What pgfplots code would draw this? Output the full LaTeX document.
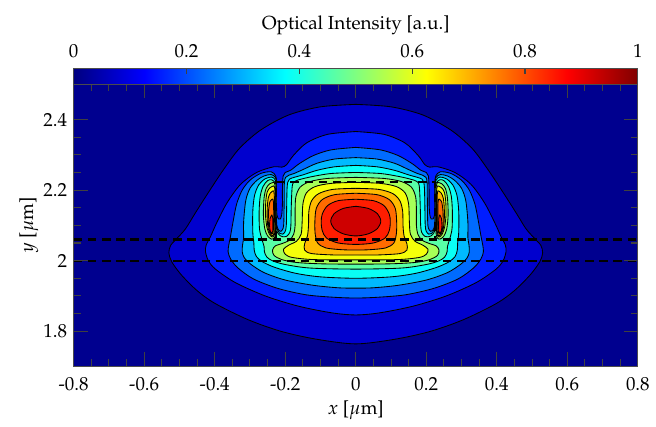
\documentclass[border=0pt]{standalone}
\usepackage[T1]{fontenc}
\usepackage{mathpazo}
\usepackage{pgfplots}
\pgfplotsset{compat=1.18}

% band colours (jet, 13 bands)
\definecolor{c0}{RGB}{0,0,143}
\definecolor{c1}{RGB}{0,0,206}
\definecolor{c2}{RGB}{0,29,255}
\definecolor{c3}{RGB}{0,107,255}
\definecolor{c4}{RGB}{0,186,255}
\definecolor{c5}{RGB}{10,255,245}
\definecolor{c6}{RGB}{88,255,167}
\definecolor{c7}{RGB}{167,255,88}
\definecolor{c8}{RGB}{245,255,10}
\definecolor{c9}{RGB}{255,186,0}
\definecolor{c10}{RGB}{255,107,0}
\definecolor{c11}{RGB}{255,29,0}
\definecolor{c12}{RGB}{206,0,0}

\pgfplotsset{
  lv/.style={draw=black, line width=0.45pt, smooth},
  wg/.style={black, line width=1.1pt, dash pattern=on 4.5pt off 3pt},
}

\begin{document}
\begin{tikzpicture}
\begin{axis}[
  name=main,
  scale only axis, width=297.9pt, height=149pt,
  xmin=-0.8, xmax=0.8, ymin=1.7, ymax=2.5,
  axis background/.style={fill=c0},
  axis on top,
  xtick={-0.8,-0.6,-0.4,-0.2,0,0.2,0.4,0.6,0.8},
  xticklabels={-0.8,-0.6,-0.4,-0.2,0,0.2,0.4,0.6,0.8},
  ytick={1.8,2,2.2,2.4}, yticklabels={1.8,2,2.2,2.4},
  minor tick num=3,
  tick align=inside, major tick length=7.4pt, minor tick length=3.7pt,
  every tick/.style={color=black!75, line width=0.55pt},
  axis line style={color=black!70, line width=0.6pt},
  xticklabel style={yshift=-2.5pt},
  xlabel={$x$ [$\mu$m]}, ylabel={$y$ [$\mu$m]},
  xlabel style={yshift=1.8pt},
  ylabel shift=-4.2pt,
  colormap/jet,
  point meta min=0, point meta max=1,
  colorbar horizontal,
  colorbar style={
    at={(0.5,1)}, anchor=south, yshift=1.9pt,
    scale only axis, width=297.9pt, height=8.4pt,
    xtick={0,0.2,0.4,0.6,0.8,1}, xticklabels={0,0.2,0.4,0.6,0.8,1},
    xtick pos=right, xticklabel pos=right,
    tick align=inside, major tick length=3.2pt,
    every tick/.style={color=black!75, line width=0.55pt},
    axis line style={color=black!70, line width=0.6pt},
    xticklabel style={yshift=2pt},
    xlabel={Optical Intensity [a.u.]},
    xlabel style={yshift=-2pt},
  },
]

% level 1
\addplot[lv, fill=c1] coordinates {
 (0,2.443) (0.10,2.436) (0.19,2.413) (0.27,2.37) (0.33,2.318) (0.375,2.258) (0.42,2.19) (0.455,2.135) (0.483,2.09) (0.508,2.062) (0.525,2.043) (0.530,2.022) (0.522,1.997) (0.495,1.960) (0.45,1.915) (0.398,1.878) (0.304,1.832) (0.21,1.799) (0.11,1.777) (0,1.764)
 (-0.11,1.777) (-0.21,1.799) (-0.304,1.832) (-0.398,1.878) (-0.45,1.915) (-0.495,1.960) (-0.522,1.997) (-0.530,2.022) (-0.525,2.043) (-0.508,2.062) (-0.483,2.09) (-0.455,2.135) (-0.42,2.19) (-0.375,2.258) (-0.33,2.318) (-0.27,2.37) (-0.19,2.413) (-0.10,2.436) (0,2.443)};
% level 2
\addplot[lv, fill=c2] coordinates {
 (0,2.366) (0.08,2.358) (0.139,2.334) (0.177,2.298) (0.196,2.272) (0.21,2.265) (0.233,2.266) (0.281,2.250) (0.327,2.216) (0.365,2.164) (0.394,2.108) (0.412,2.068) (0.424,2.045) (0.426,2.025) (0.418,2.0) (0.398,1.976) (0.342,1.938) (0.257,1.900) (0.163,1.871) (0.068,1.852) (0,1.846)
 (-0.068,1.852) (-0.163,1.871) (-0.257,1.900) (-0.342,1.938) (-0.398,1.976) (-0.418,2.0) (-0.426,2.025) (-0.424,2.045) (-0.412,2.068) (-0.394,2.108) (-0.365,2.164) (-0.327,2.216) (-0.281,2.250) (-0.233,2.266) (-0.21,2.265) (-0.196,2.272) (-0.177,2.298) (-0.139,2.334) (-0.08,2.358) (0,2.366)};
% level 3
\addplot[lv, fill=c3] coordinates {
 (0,2.321) (0.07,2.314) (0.12,2.298) (0.16,2.275) (0.185,2.256) (0.2,2.25) (0.206,2.24) (0.208,2.20) (0.208,2.16) (0.21,2.13) (0.214,2.118) (0.219,2.118) (0.2235,2.13) (0.2248,2.16) (0.2248,2.22) (0.227,2.24) (0.24,2.252) (0.27,2.247) (0.30,2.228) (0.322,2.2) (0.338,2.16) (0.348,2.11) (0.355,2.07) (0.36,2.045) (0.362,2.025) (0.355,2.005) (0.335,1.98) (0.29,1.948) (0.22,1.921) (0.14,1.903) (0.06,1.896) (0,1.894)
 (-0.06,1.896) (-0.14,1.903) (-0.22,1.921) (-0.29,1.948) (-0.335,1.98) (-0.355,2.005) (-0.362,2.025) (-0.36,2.045) (-0.355,2.07) (-0.348,2.11) (-0.338,2.16) (-0.322,2.2) (-0.30,2.228) (-0.27,2.247) (-0.24,2.252) (-0.227,2.24) (-0.2248,2.22) (-0.2248,2.16) (-0.2235,2.13) (-0.219,2.118) (-0.214,2.118) (-0.21,2.13) (-0.208,2.16) (-0.208,2.20) (-0.206,2.24) (-0.2,2.25) (-0.185,2.256) (-0.16,2.275) (-0.12,2.298) (-0.07,2.314) (0,2.321)};
% level 4
\addplot[lv, fill=c4] coordinates {
 (0,2.292) (0.06,2.288) (0.11,2.276) (0.15,2.258) (0.175,2.247) (0.19,2.242) (0.199,2.236) (0.2025,2.22) (0.203,2.17) (0.204,2.11) (0.206,2.092) (0.212,2.083) (0.219,2.087) (0.2238,2.1) (0.225,2.13) (0.225,2.215) (0.228,2.236) (0.24,2.244) (0.26,2.24) (0.28,2.228) (0.30,2.205) (0.312,2.17) (0.318,2.11) (0.318,2.065) (0.321,2.045) (0.322,2.025) (0.316,2.008) (0.298,1.99) (0.26,1.966) (0.2,1.945) (0.12,1.930) (0.05,1.923) (0,1.922)
 (-0.05,1.923) (-0.12,1.930) (-0.2,1.945) (-0.26,1.966) (-0.298,1.99) (-0.316,2.008) (-0.322,2.025) (-0.321,2.045) (-0.318,2.065) (-0.318,2.11) (-0.312,2.17) (-0.30,2.205) (-0.28,2.228) (-0.26,2.24) (-0.24,2.244) (-0.228,2.236) (-0.225,2.215) (-0.225,2.13) (-0.2238,2.1) (-0.219,2.087) (-0.212,2.083) (-0.206,2.092) (-0.204,2.11) (-0.203,2.17) (-0.2025,2.22) (-0.199,2.236) (-0.19,2.242) (-0.175,2.247) (-0.15,2.258) (-0.11,2.276) (-0.06,2.288) (0,2.292)};
% level 5
\addplot[lv, fill=c5] coordinates {
 (0,2.270) (0.06,2.266) (0.11,2.256) (0.15,2.243) (0.175,2.236) (0.188,2.231) (0.193,2.222) (0.195,2.20) (0.196,2.15) (0.197,2.10) (0.2,2.083) (0.207,2.075) (0.215,2.077) (0.222,2.088) (0.2252,2.11) (0.2252,2.21) (0.228,2.228) (0.238,2.237) (0.257,2.232) (0.275,2.215) (0.287,2.185) (0.292,2.14) (0.292,2.08) (0.289,2.05) (0.288,2.03) (0.282,2.012) (0.265,1.997) (0.23,1.981) (0.17,1.964) (0.1,1.954) (0,1.950)
 (-0.1,1.954) (-0.17,1.964) (-0.23,1.981) (-0.265,1.997) (-0.282,2.012) (-0.288,2.03) (-0.289,2.05) (-0.292,2.08) (-0.292,2.14) (-0.287,2.185) (-0.275,2.215) (-0.257,2.232) (-0.238,2.237) (-0.228,2.228) (-0.2252,2.21) (-0.2252,2.11) (-0.222,2.088) (-0.215,2.077) (-0.207,2.075) (-0.2,2.083) (-0.197,2.10) (-0.196,2.15) (-0.195,2.20) (-0.193,2.222) (-0.188,2.231) (-0.175,2.236) (-0.15,2.243) (-0.11,2.256) (-0.06,2.266) (0,2.270)};
% level 6
\addplot[lv, fill=c6] coordinates {
 (0,2.250) (0.07,2.247) (0.12,2.239) (0.155,2.231) (0.172,2.225) (0.18,2.212) (0.183,2.15) (0.184,2.10) (0.187,2.080) (0.196,2.069) (0.208,2.068) (0.218,2.074) (0.2245,2.09) (0.2254,2.15) (0.2254,2.205) (0.228,2.22) (0.238,2.229) (0.25,2.227) (0.263,2.21) (0.271,2.182) (0.274,2.14) (0.273,2.09) (0.266,2.06) (0.26,2.04) (0.259,2.025) (0.252,2.01) (0.235,1.999) (0.2,1.989) (0.13,1.979) (0,1.976)
 (-0.13,1.979) (-0.2,1.989) (-0.235,1.999) (-0.252,2.01) (-0.259,2.025) (-0.26,2.04) (-0.266,2.06) (-0.273,2.09) (-0.274,2.14) (-0.271,2.182) (-0.263,2.21) (-0.25,2.227) (-0.238,2.229) (-0.228,2.22) (-0.2254,2.205) (-0.2254,2.15) (-0.2245,2.09) (-0.218,2.074) (-0.208,2.068) (-0.196,2.069) (-0.187,2.080) (-0.184,2.10) (-0.183,2.15) (-0.18,2.212) (-0.172,2.225) (-0.155,2.231) (-0.12,2.239) (-0.07,2.247) (0,2.250)};
% level 7 core
\addplot[lv, fill=c7] coordinates {
 (0,2.236) (0.08,2.233) (0.13,2.224) (0.158,2.208) (0.17,2.18) (0.172,2.14) (0.172,2.10) (0.176,2.075) (0.188,2.058) (0.21,2.048) (0.228,2.042) (0.236,2.03) (0.232,2.015) (0.21,2.003) (0.17,1.995) (0.1,1.991) (0,1.990)
 (-0.1,1.991) (-0.17,1.995) (-0.21,2.003) (-0.232,2.015) (-0.236,2.03) (-0.228,2.042) (-0.21,2.048) (-0.188,2.058) (-0.176,2.075) (-0.172,2.10) (-0.172,2.14) (-0.17,2.18) (-0.158,2.208) (-0.13,2.224) (-0.08,2.233) (0,2.236)};
% level 8 core
\addplot[lv, fill=c8] coordinates {
 (0,2.222) (0.07,2.219) (0.115,2.21) (0.14,2.192) (0.15,2.16) (0.152,2.11) (0.155,2.075) (0.168,2.055) (0.19,2.044) (0.205,2.032) (0.2,2.018) (0.18,2.009) (0.12,2.003) (0,2.002)
 (-0.12,2.003) (-0.18,2.009) (-0.2,2.018) (-0.205,2.032) (-0.19,2.044) (-0.168,2.055) (-0.155,2.075) (-0.152,2.11) (-0.15,2.16) (-0.14,2.192) (-0.115,2.21) (-0.07,2.219) (0,2.222)};
% level 9 core
\addplot[lv, fill=c9] coordinates {
 (0,2.205) (0.065,2.202) (0.105,2.19) (0.125,2.17) (0.133,2.14) (0.134,2.10) (0.137,2.07) (0.145,2.048) (0.145,2.03) (0.125,2.02) (0.06,2.016) (0,2.016)
 (-0.06,2.016) (-0.125,2.02) (-0.145,2.03) (-0.145,2.048) (-0.137,2.07) (-0.134,2.10) (-0.133,2.14) (-0.125,2.17) (-0.105,2.19) (-0.065,2.202) (0,2.205)};
% level 10 core
\addplot[lv, fill=c10] coordinates {
 (0,2.191) (0.06,2.187) (0.095,2.173) (0.112,2.148) (0.116,2.11) (0.115,2.075) (0.108,2.05) (0.085,2.036) (0.04,2.031) (0,2.030)
 (-0.04,2.031) (-0.085,2.036) (-0.108,2.05) (-0.115,2.075) (-0.116,2.11) (-0.112,2.148) (-0.095,2.173) (-0.06,2.187) (0,2.191)};
% level 11 core
\addplot[lv, fill=c11] coordinates {
 (0,2.174) (0.05,2.170) (0.08,2.156) (0.095,2.132) (0.098,2.11) (0.095,2.085) (0.083,2.064) (0.05,2.050) (0,2.046)
 (-0.05,2.050) (-0.083,2.064) (-0.095,2.085) (-0.098,2.11) (-0.095,2.132) (-0.08,2.156) (-0.05,2.170) (0,2.174)};
% level 12 core
\addplot[lv, fill=c12] coordinates {
 (0,2.154) (0.0355,2.148) (0.0615,2.133) (0.071,2.112) (0.0615,2.091) (0.0355,2.076) (0,2.070)
 (-0.0355,2.076) (-0.0615,2.091) (-0.071,2.112) (-0.0615,2.133) (-0.0355,2.148) (0,2.154)};

% side-wall lobes, right
\addplot[lv, fill=c7] coordinates {(0.232,2.222) (0.244,2.218) (0.254,2.205) (0.260,2.178) (0.262,2.13) (0.258,2.09) (0.25,2.07) (0.239,2.061) (0.230,2.066) (0.2275,2.09) (0.2275,2.20) (0.232,2.222)};
\addplot[lv, fill=c8] coordinates {(0.2325,2.212) (0.243,2.207) (0.251,2.195) (0.255,2.17) (0.256,2.13) (0.252,2.095) (0.245,2.075) (0.237,2.067) (0.231,2.073) (0.229,2.095) (0.229,2.195) (0.2325,2.212)};
\addplot[lv, fill=c9] coordinates {(0.234,2.198) (0.242,2.192) (0.248,2.178) (0.251,2.15) (0.251,2.115) (0.248,2.09) (0.241,2.074) (0.235,2.071) (0.2315,2.08) (0.231,2.10) (0.231,2.185) (0.234,2.198)};
\addplot[lv, fill=c10] coordinates {(0.2355,2.175) (0.243,2.168) (0.247,2.145) (0.248,2.11) (0.2455,2.088) (0.2395,2.076) (0.235,2.079) (0.233,2.10) (0.233,2.16) (0.2355,2.175)};
\addplot[lv, fill=c11] coordinates {(0.238,2.13) (0.2428,2.12) (0.2445,2.10) (0.2425,2.084) (0.2385,2.078) (0.2355,2.083) (0.235,2.10) (0.2355,2.12) (0.238,2.13)};
% side-wall lobes, left
\addplot[lv, fill=c7] coordinates {(-0.232,2.222) (-0.244,2.218) (-0.254,2.205) (-0.260,2.178) (-0.262,2.13) (-0.258,2.09) (-0.25,2.07) (-0.239,2.061) (-0.230,2.066) (-0.2275,2.09) (-0.2275,2.20) (-0.232,2.222)};
\addplot[lv, fill=c8] coordinates {(-0.2325,2.212) (-0.243,2.207) (-0.251,2.195) (-0.255,2.17) (-0.256,2.13) (-0.252,2.095) (-0.245,2.075) (-0.237,2.067) (-0.231,2.073) (-0.229,2.095) (-0.229,2.195) (-0.2325,2.212)};
\addplot[lv, fill=c9] coordinates {(-0.234,2.198) (-0.242,2.192) (-0.248,2.178) (-0.251,2.15) (-0.251,2.115) (-0.248,2.09) (-0.241,2.074) (-0.235,2.071) (-0.2315,2.08) (-0.231,2.10) (-0.231,2.185) (-0.234,2.198)};
\addplot[lv, fill=c10] coordinates {(-0.2355,2.175) (-0.243,2.168) (-0.247,2.145) (-0.248,2.11) (-0.2455,2.088) (-0.2395,2.076) (-0.235,2.079) (-0.233,2.10) (-0.233,2.16) (-0.2355,2.175)};
\addplot[lv, fill=c11] coordinates {(-0.238,2.13) (-0.2428,2.12) (-0.2445,2.10) (-0.2425,2.084) (-0.2385,2.078) (-0.2355,2.083) (-0.235,2.10) (-0.2355,2.12) (-0.238,2.13)};

% waveguide outline
\addplot[wg] coordinates {(-0.8,2.06) (0.8,2.06)};
\addplot[wg] coordinates {(-0.8,2.0) (0.8,2.0)};
\addplot[wg] coordinates {(-0.225,2.06) (-0.225,2.222) (0.225,2.222) (0.225,2.06)};
\end{axis}
% page margins as in the reference
\path ([xshift=-38.9pt,yshift=-31.2pt]main.south west) rectangle ([xshift=7.9pt,yshift=44.5pt]main.north east);
\end{tikzpicture}
\end{document}
